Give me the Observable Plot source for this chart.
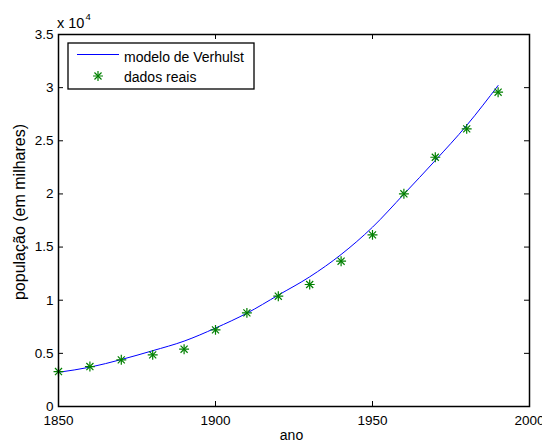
<!DOCTYPE html>
<html><head><meta charset="utf-8">
<script src="https://cdn.jsdelivr.net/npm/d3@7"></script>
<script src="https://cdn.jsdelivr.net/npm/@observablehq/plot@0.6"></script>
<style>body{margin:0;background:#fff;} svg{display:block;}</style>
</head><body><div id="chart"></div>
<script>
const years = [1850,1860,1870,1880,1890,1900,1910,1920,1930,1940,1950,1960,1970,1980,1990];
const dadosReais = [3290,3760,4390,4860,5390,7210,8810,10380,11480,13670,16150,20010,23450,26120,29570];
const modeloVerhulst = [3220,3700,4420,5250,6150,7380,8780,10480,12200,14300,16870,19980,23150,26450,30200];
const xTicks = [1850,1900,1950,2000];
const yTicks = [0,5000,10000,15000,20000,25000,30000,35000];
const yTickLabels = ["0","0.5","1","1.5","2","2.5","3","3.5"];
const seriesNames = ["modelo de Verhulst","dados reais"];
const xLabel = "ano";
const yLabel = "população (em milhares)";
const exponentLabel = "x 10";
const exponent = "4";

const W = 542, H = 441;
const mL = 58, mR = 13, mT = 34, mB = 35;
const fw = W - mL - mR, fh = H - mT - mB;
const tick = 5;
const blue = "rgb(0,0,255)", green = "rgb(0,128,0)";

const model = years.map((y,i)=>({year:y, v:modeloVerhulst[i]}));
const real = years.map((y,i)=>({year:y, v:dadosReais[i]}));

const chart = Plot.plot({
  width: W, height: H,
  marginLeft: mL, marginRight: mR, marginTop: mT, marginBottom: mB,
  style: {fontFamily: "'Liberation Sans', Arial, sans-serif", fontSize: "13.5px", background: "#fff", color: "#000"},
  x: {domain: [1850, 2000]},
  y: {domain: [0, 35000]},
  marks: [
    Plot.axisX(xTicks, {tickSize: 0, tickPadding: 8.5, label: null, fontSize: 13.5, tickFormat: d => String(d)}),
    Plot.axisY(yTicks, {tickSize: 0, tickPadding: 5, label: null, fontSize: 13.5, tickFormat: d => yTickLabels[yTicks.indexOf(d)]}),
    Plot.tickX(xTicks, {x: d => d, insetTop: fh - tick, stroke: "#000"}),
    Plot.tickX(xTicks, {x: d => d, insetBottom: fh - tick, stroke: "#000"}),
    Plot.tickY(yTicks, {y: d => d, insetRight: fw - tick, stroke: "#000"}),
    Plot.tickY(yTicks, {y: d => d, insetLeft: fw - tick, stroke: "#000"}),
    Plot.line(model, {x: "year", y: "v", stroke: blue, strokeWidth: 1, curve: "monotone-x"}),
    Plot.dot(real, {x: "year", y: "v", symbol: "plus", r: 3.3, stroke: green, strokeWidth: 1.2}),
    Plot.dot(real, {x: "year", y: "v", symbol: "times", r: 3.3, stroke: green, strokeWidth: 1.2}),
    Plot.frame({stroke: "#000", strokeWidth: 1.5})
  ]
});
document.getElementById("chart").appendChild(chart);

const svg = d3.select(chart);
const font = "'Liberation Sans', Arial, sans-serif";
// exponent label
const ex = svg.append("text").attr("x", 57).attr("y", 27.5).attr("text-anchor", "start").attr("font-size", 14.5).attr("font-family", font).attr("fill", "#000");
ex.append("tspan").text(exponentLabel);
ex.append("tspan").attr("dx", 1).attr("dy", -7.5).attr("font-size", 9.5).text(exponent);
// axis labels
svg.append("text").attr("x", 291.5).attr("y", 440).attr("text-anchor", "middle").attr("font-size", 14).attr("font-family", font).attr("fill", "#000").text(xLabel);
svg.append("text").attr("transform", "translate(25,212) rotate(-90)").attr("text-anchor", "middle").attr("font-size", 16).attr("font-family", font).attr("fill", "#000").text(yLabel);
// legend
const lg = svg.append("g").attr("text-anchor", "start").attr("font-family", font).attr("fill", "#000");
lg.append("rect").attr("x", 68).attr("y", 43).attr("width", 186).attr("height", 46).attr("fill", "#fff").attr("stroke", "#000").attr("stroke-width", 1.3);
lg.append("line").attr("x1", 77).attr("x2", 119).attr("y1", 54.5).attr("y2", 54.5).attr("stroke", blue);
lg.append("text").attr("x", 124).attr("y", 62).attr("font-size", 14).text(seriesNames[0]);
lg.append("path").attr("transform", "translate(98,76)").attr("d", d3.symbol(d3.symbolPlus, Math.PI*10.9)()).attr("stroke", green).attr("stroke-width", 1.2).attr("fill", "none");
lg.append("path").attr("transform", "translate(98,76)").attr("d", d3.symbol(d3.symbolTimes, Math.PI*10.9)()).attr("stroke", green).attr("stroke-width", 1.2).attr("fill", "none");
lg.append("text").attr("x", 124).attr("y", 82).attr("font-size", 14).text(seriesNames[1]);
</script>
</body></html>
